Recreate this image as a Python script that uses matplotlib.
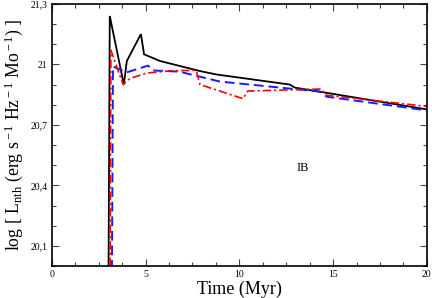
import matplotlib
matplotlib.use("Agg")
import matplotlib.pyplot as plt
from matplotlib.ticker import MultipleLocator, FuncFormatter, FixedLocator

plt.rcParams["mathtext.fontset"] = "custom"
plt.rcParams["mathtext.rm"] = "Liberation Serif"
plt.rcParams["mathtext.it"] = "Liberation Serif:italic"
plt.rcParams["mathtext.bf"] = "Liberation Serif:bold"

# Data
black_t = [3.0, 3.09, 3.84, 4.0, 4.75, 4.92, 5.76, 7.9, 8.78, 12.69, 12.96, 20.0]
black_y = [19.5, 21.24, 20.90, 21.017, 21.15, 21.05, 21.017, 20.967, 20.95, 20.90, 20.885, 20.777]

red_t = [3.09, 3.15, 3.8, 4.16, 5.05, 6.46, 7.7, 7.9, 10.2, 10.45, 14.38, 14.56, 20.0]
red_y = [19.5, 21.07, 20.90, 20.93, 20.957, 20.969, 20.97, 20.90, 20.83, 20.868, 20.878, 20.848, 20.792]

blue_t = [3.18, 3.26, 3.98, 5.13, 5.4, 6.8, 8.96, 14.3, 14.65, 20.0]
blue_y = [19.5, 20.99, 20.96, 20.994, 20.97, 20.964, 20.915, 20.865, 20.84, 20.772]

x_major = [0, 5, 10, 15, 20]
y_major = [20.1, 20.4, 20.7, 21.0, 21.3]

fig = plt.figure(figsize=(4.32, 2.98), dpi=100)
ax = fig.add_axes([0.120, 0.107, 0.868, 0.880])
serif = "Liberation Serif"

ax.plot(black_t, black_y, color="black", lw=1.3, solid_joinstyle="miter")
ax.plot(blue_t, blue_y, color="#1a1aff", lw=1.4, dashes=(5, 2.5))
ax.plot(red_t, red_y, color="#ff0000", lw=1.2, dashes=(5, 1.8, 1.3, 1.8))

ax.set_xlim(0, 20)
ax.set_ylim(20.0, 21.3)
ax.xaxis.set_major_locator(FixedLocator(x_major))
ax.xaxis.set_minor_locator(MultipleLocator(1.25))
ax.yaxis.set_major_locator(FixedLocator(y_major))
ax.yaxis.set_minor_locator(MultipleLocator(0.1))

fmt = FuncFormatter(lambda v, p: ("%g" % round(v, 2)).replace(".", ","))
ax.xaxis.set_major_formatter(fmt)
ax.yaxis.set_major_formatter(fmt)

ax.tick_params(which="both", direction="in", top=True, right=True, width=0.8, color="#444444")
ax.tick_params(which="major", length=5, labelsize=7, pad=3)
ax.tick_params(which="minor", length=3)
for lab in ax.get_xticklabels() + ax.get_yticklabels():
    lab.set_fontfamily(serif)
for s in ax.spines.values():
    s.set_linewidth(1.2)

ax.set_xlabel("Time (Myr)", fontsize=13, fontfamily=serif, labelpad=1)
ax.set_ylabel(r"log [ L$_{\rm nth}$ (erg s$^{\rm -1}$ Hz$^{\rm -1}$ Mo$^{\rm -1}$) ]",
              fontsize=12.8, fontfamily=serif, labelpad=4)
ax.text(13.4, 20.486, "IB", fontsize=9, fontfamily=serif, ha="center", va="center")

fig.savefig("out.png", dpi=100)
